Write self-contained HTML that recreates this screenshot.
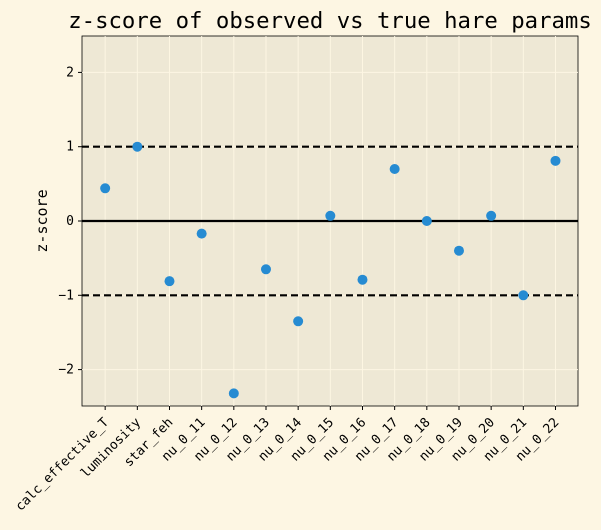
<!DOCTYPE html>
<html><head><meta charset="utf-8"><style>
html,body{margin:0;padding:0;background:#fdf6e3;}
svg{display:block;font-family:"DejaVu Sans Mono","Liberation Mono",monospace;}
</style></head><body>
<svg id="chart" width="601" height="530">
<rect width="601" height="530" fill="#fdf6e3"/>
<text x="330" y="28" text-anchor="middle" font-size="22.3" fill="#000">z-score of observed vs true hare params</text>
<rect x="82" y="36" width="496" height="370" fill="#eee8d5" stroke="#000" stroke-width="0.8"/>
<g id="grid"></g><g id="refs"></g><g id="marks"></g><g id="xt"></g><g id="yt"></g>
<text transform="translate(47,221) rotate(-90)" text-anchor="middle" font-size="15" fill="#000">z-score</text>
</svg>
<script>
const categories=["calc_effective_T","luminosity","star_feh","nu_0_11","nu_0_12","nu_0_13","nu_0_14","nu_0_15","nu_0_16","nu_0_17","nu_0_18","nu_0_19","nu_0_20","nu_0_21","nu_0_22"];
const zscores=[0.44,1.0,-0.81,-0.17,-2.32,-0.65,-1.35,0.07,-0.79,0.70,0.0,-0.40,0.07,-1.0,0.81];
const yTicks=[-2,-1,0,1,2];
const refLines=[1,0,-1];
const NS="http://www.w3.org/2000/svg";
const L=82,R=578,T=36,B=406;
function x(i){return L+(i+0.72)*(R-L)/(categories.length-1+1.42);}
function y(v){return T+(2.49-v)*(B-T)/4.98;}
function mk(t,a,p){const e=document.createElementNS(NS,t);for(const k in a)e.setAttribute(k,a[k]);document.getElementById(p).appendChild(e);return e;}
categories.forEach((c,i)=>{
 const g=mk("line",{x1:x(i),x2:x(i),y1:T,y2:B,stroke:"#fdf6e3","stroke-width":1},"grid");
 
 
 const tk=mk("line",{x1:x(i),x2:x(i),y1:B,y2:B+4,stroke:"#000"},"xt");
 
 
 const t=mk("text",{x:0,y:0,"font-size":13,"text-anchor":"end",transform:`translate(${x(i)+4},${B+17}) rotate(-45)`},"xt");
 t.textContent=c;
 
 
});
yTicks.forEach(v=>{
 const g=mk("line",{x1:L,x2:R,y1:y(v),y2:y(v),stroke:"#fdf6e3","stroke-width":1},"grid");
 
 
 const tk=mk("line",{x1:L-4,x2:L,y1:y(v),y2:y(v),stroke:"#000"},"yt");
 
 
 const t=mk("text",{x:L-8,y:y(v)+4,"font-size":13,"text-anchor":"end"},"yt");
 t.textContent=v<0?"\u2212"+Math.abs(v):String(v);
 
 
});
refLines.forEach(v=>{
 const l=mk("line",{x1:L,x2:R,y1:y(v),y2:y(v),stroke:"#000","stroke-width":2.2,"stroke-dasharray":v===0?"none":"7,4"},"refs");
 
 
});
zscores.forEach((v,i)=>{
 const c=mk("circle",{cx:x(i),cy:y(v),r:5,fill:"#268bd2"},"marks");
 
 
});
</script>
</body></html>
